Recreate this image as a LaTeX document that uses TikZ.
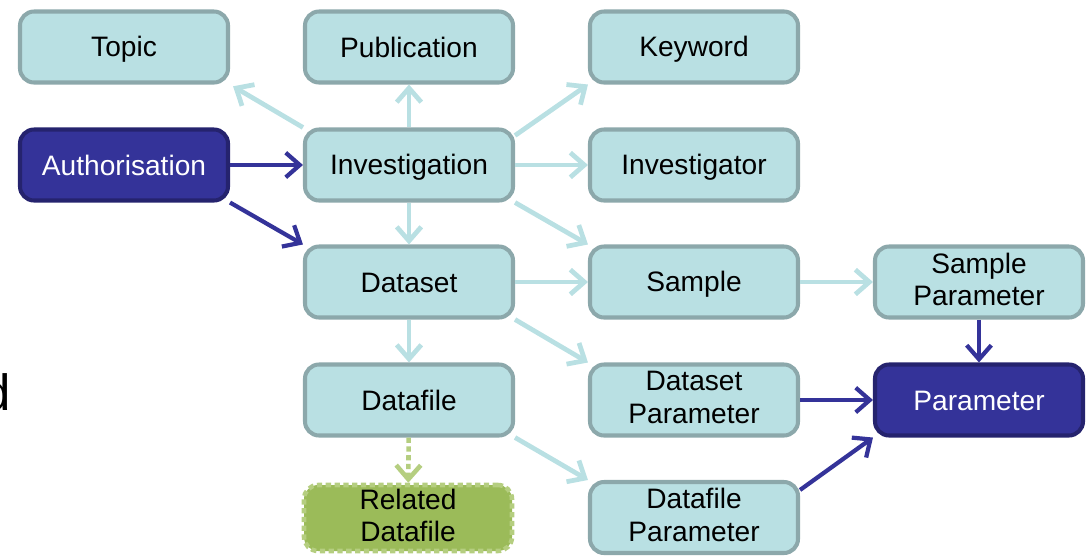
\documentclass[tikz,border=0pt]{standalone}
\usepackage{fontspec}
\setmainfont{Liberation Sans}
\usepackage{tikz}
\usetikzlibrary{arrows.meta,positioning}
\definecolor{entityfill}{HTML}{B9E0E3}
\definecolor{entityline}{HTML}{8CA8AB}
\definecolor{authblue}{HTML}{343399}
\definecolor{authline}{HTML}{25236E}
\definecolor{relgreen}{HTML}{9BBB59}
\definecolor{relline}{HTML}{B5CE80}
\newcommand\boxstrut{\rule[-3pt]{0pt}{17.5pt}}

\begin{document}
\begin{tikzpicture}[
  every node/.style={font=\fontsize{16}{18.5}\selectfont},
  box/.style={rectangle, draw=entityline, fill=entityfill, line width=2.3pt,
    rounded corners=8pt, minimum height=1.42cm, minimum width=4.16cm,
    align=center, inner sep=2pt,
    execute at begin node=\boxstrut, execute at end node=\boxstrut},
  darkbox/.style={box, draw=authline, fill=authblue, text=white},
  relbox/.style={box, draw=relline, fill=relgreen, dash pattern=on 3pt off 2pt,
    line width=2.6pt, minimum height=1.32cm},
  link/.style={->, line width=2.7pt, entityfill},
  darklink/.style={->, line width=2.4pt, authblue},
  >={Straight Barb[length=8pt,width=14pt]},
]
  \useasboundingbox (0,0) rectangle (21.76,11.1);

  \node[anchor=base east, inner sep=0, font=\fontsize{29}{30}\selectfont] (stray) at (0.22,2.9) {d};

  \node[box] (topic) at (2.48,10.16) {Topic};
  \node[box] (pub) at (8.18,10.16) {Publication};
  \node[box] (kw) at (13.88,10.16) {Keyword};

  \node[darkbox] (auth) at (2.48,7.8) {Authorisation};
  \node[box] (inv) at (8.18,7.8) {Investigation};
  \node[box] (invr) at (13.88,7.8) {Investigator};

  \node[box] (ds) at (8.18,5.46) {Dataset};
  \node[box] (sample) at (13.88,5.46) {Sample};
  \node[box] (sparam) at (19.58,5.46) {Sample\\Parameter};

  \node[box] (df) at (8.18,3.1) {Datafile};
  \node[box] (dsparam) at (13.88,3.1) {Dataset\\Parameter};
  \node[darkbox] (param) at (19.58,3.1) {Parameter};

  \node[relbox] (reldf) at (8.16,0.74) {Related\\Datafile};
  \node[box] (dfparam) at (13.88,0.75) {Datafile\\Parameter};

  % investigation links
  \draw[link, shorten >=2pt] (inv.north west) -- (topic.south east);
  \draw[link] (inv) -- (pub);
  \draw[link] ([yshift=-0.16cm]inv.north east) -- (kw.south west);
  \draw[link] (inv) -- (invr);
  \draw[link] (inv.south east) -- (sample.north west);
  \draw[link] (inv) -- (ds);

  % dataset and below
  \draw[link] (ds) -- (sample);
  \draw[link] (ds.south east) -- (dsparam.north west);
  \draw[link] (ds) -- (df);
  \draw[link] (sample) -- (sparam);
  \draw[link] (df.south east) -- (dfparam.north west);
  \draw[->, line width=2.6pt, relline, dash pattern=on 3pt off 2pt] (df) -- (reldf);

  % authorisation and parameter
  \draw[darklink] (auth) -- (inv);
  \draw[darklink] (auth.south east) -- (ds.north west);
  \draw[darklink] (sparam) -- (param);
  \draw[darklink] (dsparam) -- (param);
  \draw[darklink] ([yshift=-0.2cm]dfparam.north east) -- (param.south west);
\end{tikzpicture}
\end{document}
